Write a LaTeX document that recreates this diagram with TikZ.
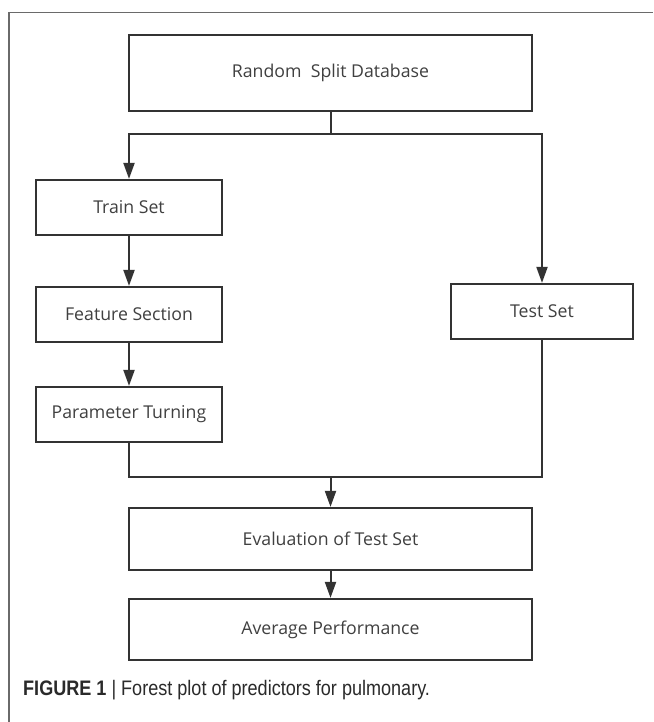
\documentclass[tikz,border=0pt]{standalone}
\usepackage{fontspec}
\setmainfont{Open Sans}
\newfontfamily\capfont[FakeStretch=0.86]{Liberation Sans}
\usetikzlibrary{arrows.meta}
\definecolor{boxline}{HTML}{333333}
\definecolor{boxtext}{HTML}{404040}
\definecolor{framecol}{HTML}{6A6A6A}
\definecolor{captext}{HTML}{2A2A2A}
\begin{document}
\begin{tikzpicture}[x=1pt,y=-1pt,
  stepbox/.style={draw=boxline, line width=2.2pt, fill=white, inner sep=0pt,
    text=boxtext, font=\fontsize{17.7}{20}\selectfont, align=center},
  wide/.style={stepbox, minimum width=403pt},
  narrow/.style={stepbox, minimum width=186pt, minimum height=55pt},
  conn/.style={draw=boxline, line width=2pt},
  arr/.style={conn, -{Triangle[length=16pt,width=11pt]}}]
\useasboundingbox (0,0) rectangle (653,722);
\fill[white] (0,0) rectangle (653,722);
% frame
\coordinate (fa) at (9,722);
\coordinate (fb) at (9,12.5);
\coordinate (fc) at (653,12.5);
\draw[framecol, line width=1.2pt] (fa) -- (fb) -- (fc);
% nodes
\node[wide, minimum height=76pt] (rsd) at (330.5,73) {Random\ \ Split Database};
\node[narrow] (train) at (129,207.5) {Train Set};
\node[narrow] (feat) at (129,314.5) {Feature Section};
\node[narrow] (param) at (129,414.5) {Parameter Turning};
\node[narrow, minimum width=182pt] (test) at (542,311.5) {Test Set};
\node[wide, minimum height=62pt] (eval) at (330.5,539) {Evaluation of Test Set};
\node[wide, minimum height=61pt] (avg) at (330.5,629.5) {Average Performance};
% connectors
\coordinate (split) at (330.5,134);
\coordinate (merge) at (330.5,477);
\draw[conn] (rsd.south) -- (split);
\draw[arr] (split) -| (train.north);
\draw[arr] (split) -| (test.north);
\draw[arr] (train) -- (feat);
\draw[arr] (feat) -- (param);
\draw[conn] (param.south) |- (merge);
\draw[conn] (test.south) |- (merge);
\draw[arr] (merge) -- (eval.north);
\draw[arr] (eval) -- (avg);
% caption
\node[anchor=base west, inner sep=0pt, text=captext, font=\capfont\fontsize{21}{24}\selectfont] (cap) at (23,695)
  {\textbf{FIGURE 1} | Forest plot of predictors for pulmonary.};
\end{tikzpicture}
\end{document}
